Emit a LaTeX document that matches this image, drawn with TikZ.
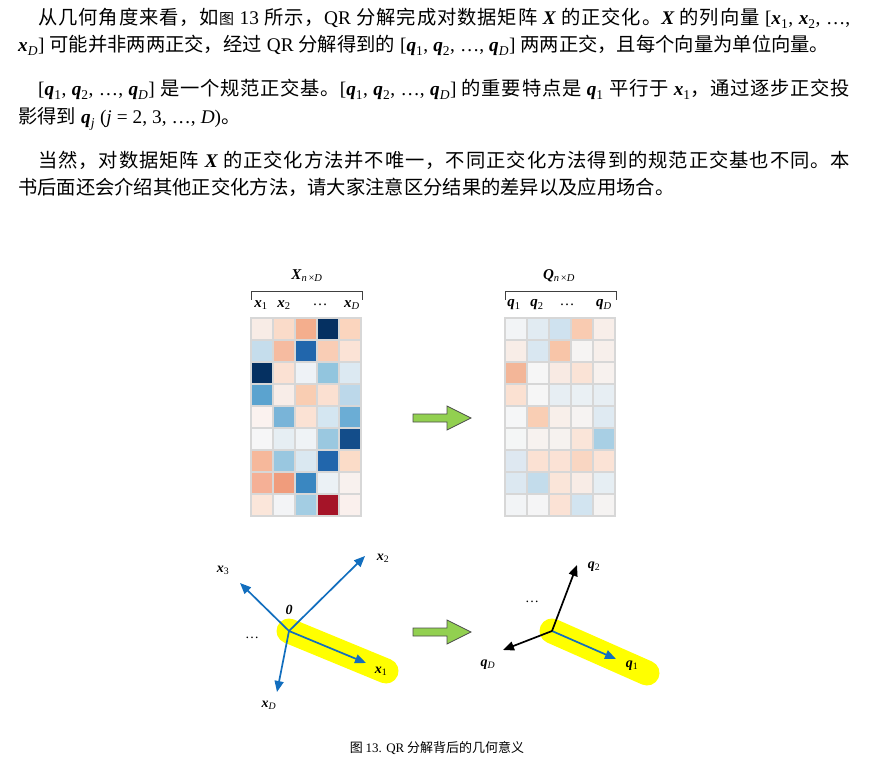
\documentclass[tikz,border=0pt]{standalone}
\usepackage{fontspec}
\setmainfont{Liberation Serif}
\newfontfamily\cjk{Noto Sans CJK SC}
\usepackage{xcolor}
\usepackage{tikz}
\usetikzlibrary{positioning, shapes, arrows.meta, calc}
\newXeTeXintercharclass\cjkc
\count255="4E00
\loop\XeTeXcharclass\count255=\cjkc \advance\count255 by 1 \ifnum\count255<"A000 \repeat
\XeTeXcharclass"FF0C=\cjkc
\XeTeXcharclass"3002=\cjkc
\XeTeXinterchartokenstate=1
\XeTeXinterchartoks\cjkc\cjkc={\hskip 0pt plus 2pt\relax}
\definecolor{arrowgreen}{RGB}{146,208,80}
\definecolor{vecblue}{RGB}{18,110,190}
\definecolor{hlyellow}{RGB}{255,255,0}
\definecolor{gridgray}{RGB}{215,215,215}
\newcommand{\la}[1]{{\rmfamily #1}}
\newcommand{\vb}[1]{{\rmfamily\bfseries\itshape #1}}
\newcommand{\vs}[2]{{\rmfamily{\bfseries\itshape #1}\textsubscript{#2}}}
\newcommand{\tsp}{\spaceskip=5pt plus 1pt minus 1pt\relax}
\newcommand{\jline}[1]{\hbox to 812pt{\tsp #1}}

\begin{document}
\begin{tikzpicture}[x=1pt, y=-1pt]
		\tikzstyle{txt}=[anchor=base west, inner sep=0pt, font=\fontsize{19.3}{23}\selectfont\cjk]
		\tikzstyle{cell}=[draw=gridgray, line width=1.2pt, minimum size=22pt, inner sep=0pt, outer sep=0pt]
		\tikzstyle{collab}=[inner sep=0pt, font=\fontsize{15}{15}\selectfont]
		\tikzstyle{vlab}=[inner sep=0pt, font=\fontsize{14}{14}\selectfont]
		\tikzstyle{brk}=[draw=black!75, line width=0.9pt]
		\tikzstyle{garrow}=[draw=black!70, line width=0.8pt, fill=arrowgreen, line join=miter]
		\tikzstyle{band}=[draw=hlyellow, line width=25pt, line cap=round]
		\tikzstyle{vec}=[draw=vecblue, line width=1.7pt, -{Triangle[length=11pt, width=9pt]}]
		\tikzstyle{vecb}=[draw=black, line width=1.7pt, -{Triangle[length=11pt, width=9pt]}]
		
		\useasboundingbox (0,0) rectangle (878,767);
		
		%% text above the figure
		\node[txt] (l1) at (38,25) {\jline{从几何角度来看，如{\fontsize{15}{15}\selectfont 图} \la{13} 所示，\la{QR} 分解完成对数据矩阵 \vb{X} 的正交化。\vb{X} 的列向量 \la{[}\vs{x}{1}\la{,} \vs{x}{2}\la{, …,}}};
		\node[txt] (l2) at (18,52) {\tsp\vs{x}{\textit{D}}\la{]} 可能并非两两正交，经过 \la{QR} 分解得到的 \la{[}\vs{q}{1}\la{,} \vs{q}{2}\la{, …,} \vs{q}{\textit{D}}\la{]} 两两正交，且每个向量为单位向量。};
		\node[txt] (l3) at (38,96) {\jline{\la{[}\vs{q}{1}\la{,} \vs{q}{2}\la{, …,} \vs{q}{\textit{D}}\la{]} 是一个规范正交基。\la{[}\vs{q}{1}\la{,} \vs{q}{2}\la{, …,} \vs{q}{\textit{D}}\la{]} 的重要特点是 \vs{q}{1} 平行于 \vs{x}{1}，通过逐步正交投}};
		\node[txt] (l4) at (18,124) {\tsp 影得到 \vs{q}{\textit{j}} \la{(\textit{j} = 2, 3, …, \textit{D})}。};
		\node[txt] (l5) at (38,168) {\jline{当然，对数据矩阵 \vb{X} 的正交化方法并不唯一，不同正交化方法得到的规范正交基也不同。本}};
		\node[txt] (l6) at (18,195) {书后面还会介绍其他正交化方法，请大家注意区分结果的差异以及应用场合。};
		
		%% data matrix X
		\foreach \rowc [count=\r] in {
			{F8ECE6,FADBC9,F4AE8D,053061,FBD5BE},
			{C5DDEC,F6BBA0,2166AC,F9CDB5,FBE3D6},
			{053061,FBE1D3,EEF2F6,92C5DE,DCE9F2},
			{5BA3CF,F8EDE8,F9CDB2,FBE0D1,BCD8EA},
			{FBF2EF,79B4D8,FBE2D4,D4E6F1,6BADD5},
			{F6F6F7,E6EEF3,EFF3F6,9AC8E0,134D8A},
			{F6B89B,99C7E0,DAE8F1,2166AC,FBDCC8},
			{F5B096,F09C7C,3A87C1,EBF1F5,F8F1EE},
			{FBE6DA,F3F4F6,A3CDE3,A51428,FAF0ED}} {
			\foreach \hx [count=\c] in \rowc {
				\definecolor{cellc}{HTML}{\hx}
				\node[cell, fill=cellc] (X-\r-\c) at ({240+22*\c},{307+22*\r}) {};
			}
		}
		\draw[brk] (251,300) -- (251,291) -- (362,291) -- (362,300);
		\node[collab] (Xlab) at (307,276) {\vb{X}\textsubscript{\textit{n}\,×\textit{D}}};
		\node[collab] (cx1) at (261,305) {\vs{x}{1}};
		\node[collab] (cx2) at (284,305) {\vs{x}{2}};
		\node[collab] (cxd) at (320,305) {…};
		\node[collab] (cxD) at (352,305) {\vs{x}{\textit{D}}};
		
		%% orthonormal matrix Q
		\foreach \rowc [count=\r] in {
			{F2F4F6,E1EBF2,CFE2EF,F9CBB1,F8EEE9},
			{F8EDE7,D9E7F1,F8C5A8,F6F4F3,F7EFEB},
			{F3B698,F6F6F6,F8EAE3,FAE3D6,F7F1EE},
			{FBE1D2,F6F6F6,E7EEF3,EAF0F4,E7EEF3},
			{F5F6F7,F9CEB4,F8EFEA,F6F3F2,DFEAF2},
			{F4F6F6,F7F2EF,F6F2EF,FAE5D9,A8CFE4},
			{DEE8F1,FBE1D3,FBE2D5,F9D6C2,FBE3D6},
			{DCE8F1,C3DCEB,FAE5D9,F8ECE6,E6EEF3},
			{F2F4F6,F5F5F6,FBE2D5,D2E4F0,F5F3F2}} {
			\foreach \hx [count=\c] in \rowc {
				\definecolor{cellc}{HTML}{\hx}
				\node[cell, fill=cellc] (Q-\r-\c) at ({494+22*\c},{307+22*\r}) {};
			}
		}
		\draw[brk] (505,300) -- (505,291) -- (616,291) -- (616,300);
		\node[collab] (Qlab) at (559,276) {\vb{Q}\textsubscript{\textit{n}\,×\textit{D}}};
		\node[collab] (cq1) at (514,305) {\vs{q}{1}};
		\node[collab] (cq2) at (537,305) {\vs{q}{2}};
		\node[collab] (cqd) at (567,305) {…};
		\node[collab] (cqD) at (604,305) {\vs{q}{\textit{D}}};
		
		%% green arrows
		\coordinate (ga1) at (413,418);
		\coordinate (ga2) at (413,632);
		\foreach \g in {ga1,ga2}
			\draw[garrow] (\g) ++(0,-4) -- ++(34,0) -- ++(0,-8) -- ++(24,12) -- ++(-24,12) -- ++(0,-8) -- ++(-34,0) -- cycle;
		
		%% vectors x
		\coordinate (o1) at (289,631);
		\coordinate (t1) at (366,663);
		\coordinate (t2) at (365,556);
		\coordinate (t3) at (240,583);
		\coordinate (tD) at (277,692);
		\draw[band] (o1) -- (386,671);
		\draw[vec] (o1) -- (t1);
		\draw[vec] (o1) -- (t2);
		\draw[vec] (o1) -- (t3);
		\draw[vec] (o1) -- (tD);
		\node[vlab] (x1) at (381,671) {\vs{x}{1}};
		\node[vlab] (x2) at (383,558) {\vs{x}{2}};
		\node[vlab] (x3) at (223,570) {\vs{x}{3}};
		\node[vlab] (xD) at (269,705) {\vs{x}{\textit{D}}};
		\node[vlab] (zero) at (289,610) {\vb{0}};
		\node[vlab] (xdots) at (252,638) {…};
		
		%% vectors q
		\coordinate (o2) at (552,631);
		\coordinate (s1) at (616,659);
		\coordinate (s2) at (577,565);
		\coordinate (sD) at (503,650);
		\draw[band] (o2) -- (647,673);
		\draw[vec] (o2) -- (s1);
		\draw[vecb] (o2) -- (s2);
		\draw[vecb] (o2) -- (sD);
		\node[vlab] (q1) at (632,666) {\vs{q}{1}};
		\node[vlab] (q2) at (594,567) {\vs{q}{2}};
		\node[vlab] (qD) at (488,665) {\vs{q}{\textit{D}}};
		\node[vlab] (qdots) at (532,602) {…};
		
		%% caption
		\node[inner sep=0pt, font=\fontsize{13}{15}\selectfont\cjk] (cap) at (437,748) {图 \la{13. QR} 分解背后的几何意义};
		
		\end{tikzpicture}
\end{document}
